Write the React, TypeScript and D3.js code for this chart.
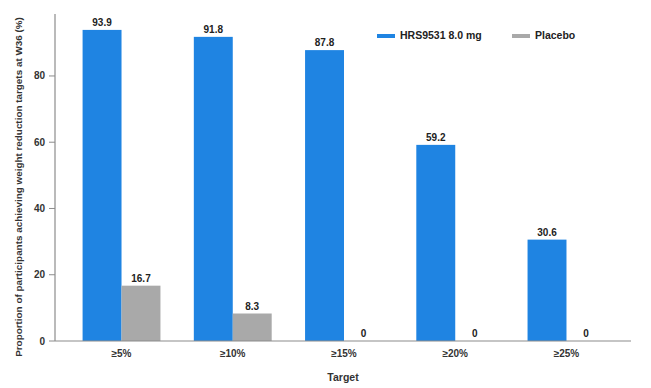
import * as d3 from "d3";

const categories = ["≥5%", "≥10%", "≥15%", "≥20%", "≥25%"];
const seriesNames = ["HRS9531 8.0 mg", "Placebo"];
const hrsValues = [93.9, 91.8, 87.8, 59.2, 30.6];
const placeboValues = [16.7, 8.3, 0, 0, 0];
const yTicks = [0, 20, 40, 60, 80];

const W = 651;
const H = 388;
const colors = ["#1f84e2", "#a9a9a9"];
const FONT = "'Liberation Sans', Arial, sans-serif";

export default function App() {
  const x = d3.scaleBand<string>().domain(categories).range([57, 631]).paddingInner(0.3).paddingOuter(0.23);
  const xs = d3.scaleBand<string>().domain(seriesNames).range([0, x.bandwidth()]).padding(0);
  const y = d3.scaleLinear().domain([0, 98.7]).range([341, 14]);

  const rows = categories.map((c, i) => ({ cat: c, vals: [hrsValues[i], placeboValues[i]] }));

  return (
    <div style={{ position: "absolute", left: 0, top: 0 }}>
      <svg width={W} height={H} style={{ display: "block", fontFamily: FONT }}>
        <rect width={W} height={H} fill="#ffffff" />

        {/* bars */}
        {rows.map((r) =>
          r.vals.map((v, j) => {
            const bx = (x(r.cat) ?? 0) + (xs(seriesNames[j]) ?? 0);
            const bw = xs.bandwidth();
            return (
              <g key={r.cat + j}>
                {v > 0 && (
                  <rect
                    x={bx}
                    y={y(v)}
                    width={bw}
                    height={y(0) - y(v)}
                    fill={colors[j]}
                  />
                )}
                <text
                  x={bx + bw / 2}
                  y={y(v) - 4}
                  textAnchor="middle"
                  fontSize={10}
                  fontWeight="bold"
                  fill="#222"
                >
                  {v === 0 ? "0" : v.toFixed(1)}
                </text>
              </g>
            );
          })
        )}

        {/* y axis */}
        <line x1={55} x2={55} y1={y.range()[1]} y2={y(0)} stroke="#8c8c8c" strokeWidth={1.2} />
        {yTicks.map((t) => (
          <g key={t}>
            <line x1={49} x2={55} y1={y(t)} y2={y(t)} stroke="#8c8c8c" strokeWidth={1} />
            <text x={45} y={y(t) + 3.5} textAnchor="end" fontSize={10} fontWeight="bold" fill="#333">
              {t}
            </text>
          </g>
        ))}

        {/* x axis */}
        <line x1={55} x2={631} y1={y(0)} y2={y(0)} stroke="#8c8c8c" strokeWidth={1.2} />
        {categories.map((c) => (
          <text
            key={c}
            x={(x(c) ?? 0) + x.bandwidth() / 2}
            y={357}
            textAnchor="middle"
            fontSize={10}
            fontWeight="bold"
            fill="#333"
          >
            {c}
          </text>
        ))}

        <text x={343} y={381} textAnchor="middle" fontSize={10.5} fontWeight="bold" fill="#333">
          Target
        </text>
        <text
          transform="translate(22,187) rotate(-90)"
          textAnchor="middle"
          fontSize={9.9}
          fontWeight="bold"
          fill="#333"
        >
          Proportion of participants achieving weight reduction targets at W36 (%)
        </text>

        {/* legend */}
        {seriesNames.map((s, i) => {
          const lx = i === 0 ? 377 : 512;
          return (
            <g key={s}>
              <rect x={lx} y={34} width={18} height={4} fill={colors[i]} />
              <text x={lx + 23} y={39} fontSize={10.5} fontWeight="bold" fill="#222">
                {s}
              </text>
            </g>
          );
        })}
      </svg>
    </div>
  );
}
